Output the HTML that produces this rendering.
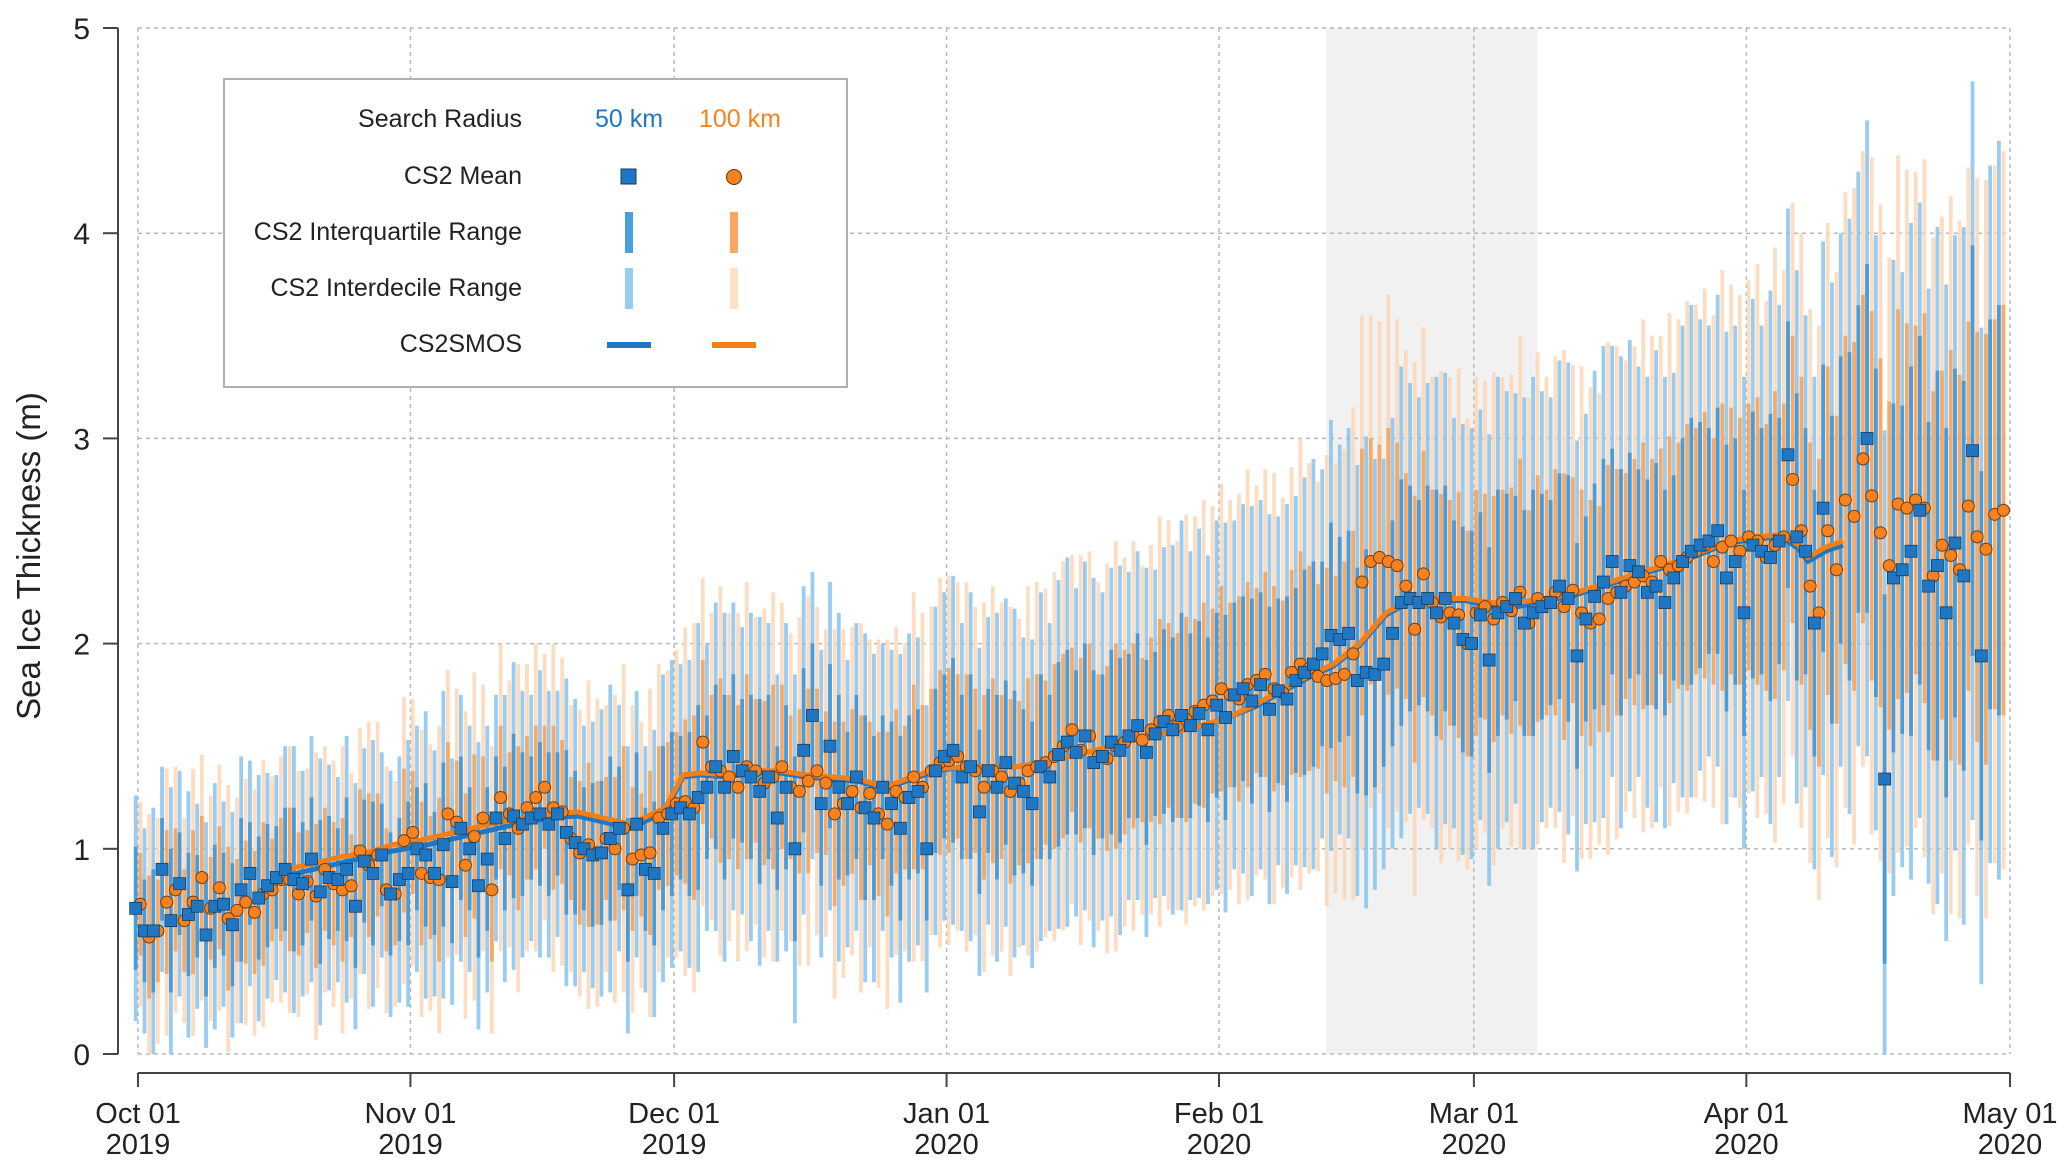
<!DOCTYPE html>
<html><head><meta charset="utf-8">
<style>
html,body{margin:0;padding:0;background:#fff;}
svg{display:block;font-family:"Liberation Sans",Arial,sans-serif;}
</style></head>
<body>
<svg id="chart" width="2067" height="1173" viewBox="0 0 2067 1173" xmlns="http://www.w3.org/2000/svg">
<g id="shade"></g>
<g id="grid"></g>
<g id="bars"></g>
<g id="lines"></g>
<g id="marks"></g>
<g id="axes"></g>
<text x="0" y="0" transform="translate(40,556) rotate(-90)" text-anchor="middle" font-size="33" fill="#222">Sea Ice Thickness (m)</text>
<g>
<rect x="224" y="79" width="623" height="308" fill="#fff" stroke="#b0b0b0" stroke-width="2"/>
<text x="522" y="127" text-anchor="end" font-size="25" fill="#222">Search Radius</text>
<text x="629" y="127" text-anchor="middle" font-size="25" fill="#1f77c4">50 km</text>
<text x="740" y="127" text-anchor="middle" font-size="25" fill="#f58220">100 km</text>
<text x="522" y="184" text-anchor="end" font-size="25" fill="#222">CS2 Mean</text>
<rect x="621" y="169" width="15" height="15" fill="#1f77c4" stroke="#1a3a5a" stroke-width="1"/>
<circle cx="734" cy="177" r="7.5" fill="#f58220" stroke="#6a3000" stroke-width="1"/>
<text x="522" y="240" text-anchor="end" font-size="25" fill="#222">CS2 Interquartile Range</text>
<rect x="625" y="212" width="8" height="41" fill="#4a9ee0"/>
<rect x="730" y="212" width="8" height="41" fill="#f9a863"/>
<text x="522" y="296" text-anchor="end" font-size="25" fill="#222">CS2 Interdecile Range</text>
<rect x="625" y="268" width="8" height="41" fill="#97ccf0"/>
<rect x="730" y="268" width="8" height="41" fill="#fde0c6"/>
<text x="522" y="352" text-anchor="end" font-size="25" fill="#222">CS2SMOS</text>
<rect x="607" y="342" width="44" height="6" fill="#1f77c4"/>
<rect x="712" y="342" width="44" height="6" fill="#f57f17"/>
</g>
</svg>
<script>
const monthLabels = ["Oct 01","Nov 01","Dec 01","Jan 01","Feb 01","Mar 01","Apr 01","May 01"];
const monthYears = ["2019","2019","2019","2020","2020","2020","2020","2020"];
const monthDays = [0,31,61,92,123,152,183,213];
const yTicks = [0,1,2,3,4,5];
const shadeRange = [135.2,159.2];

const blueMean = [0.71,0.60,0.60,0.90,0.65,0.83,0.68,0.72,0.58,0.72,0.73,0.63,0.80,0.88,0.76,0.82,0.86,0.90,0.85,0.83,0.95,0.79,0.86,0.85,0.90,0.72,0.94,0.88,0.97,0.78,0.85,
0.88,1.00,0.97,0.88,1.02,0.84,1.10,1.00,0.82,0.95,1.15,1.05,1.16,1.12,1.15,1.17,1.12,1.17,1.08,1.03,1.00,0.97,0.98,1.05,1.10,0.80,1.12,0.90,0.88,1.10,
1.17,1.20,1.17,1.25,1.30,1.40,1.30,1.45,1.38,1.35,1.28,1.35,1.15,1.30,1.00,1.48,1.65,1.22,1.50,1.30,1.22,1.35,1.20,1.15,1.30,1.22,1.10,1.25,1.28,1.00,1.38,
1.45,1.48,1.35,1.40,1.18,1.38,1.30,1.42,1.32,1.28,1.22,1.40,1.35,1.46,1.52,1.47,1.55,1.42,1.45,1.52,1.48,1.55,1.60,1.47,1.56,1.62,1.58,1.65,1.60,1.66,1.58,
1.70,1.64,1.75,1.78,1.72,1.80,1.68,1.77,1.73,1.82,1.86,1.90,1.95,2.04,2.02,2.05,1.82,1.86,1.85,1.90,2.05,2.20,2.22,2.20,2.22,2.15,2.22,2.10,2.02,
2.00,2.14,1.92,2.15,2.18,2.22,2.10,2.15,2.18,2.20,2.28,2.22,1.94,2.12,2.23,2.30,2.40,2.25,2.38,2.35,2.25,2.28,2.20,2.32,2.40,2.45,2.48,2.50,2.55,2.32,2.40,
2.15,2.48,2.45,2.42,2.50,2.92,2.52,2.45,2.10,2.66,null,null,null,null,3.00,null,1.34,2.32,2.36,2.45,2.65,2.28,2.38,2.15,2.49,2.33,2.94,1.94,null,null];

const orangeMean = [0.73,0.57,0.60,0.74,0.80,0.65,0.74,0.86,0.71,0.81,0.66,0.70,0.74,0.69,0.78,0.80,0.85,0.85,0.78,0.84,0.77,0.90,0.83,0.80,0.82,0.99,0.92,0.97,0.80,0.78,1.04,
1.08,0.88,0.86,0.85,1.17,1.13,0.92,1.06,1.15,0.80,1.25,1.17,1.10,1.20,1.25,1.30,1.20,1.18,1.05,0.98,1.02,0.98,1.05,1.00,1.10,0.95,0.97,0.98,1.15,1.17,
1.22,1.23,1.20,1.52,1.40,1.38,1.35,1.30,1.40,1.38,1.32,1.35,1.40,1.30,1.28,1.33,1.38,1.32,1.17,1.22,1.28,1.20,1.27,1.17,1.12,1.28,1.25,1.35,1.30,1.38,1.42,
1.43,1.45,1.40,1.38,1.30,1.38,1.35,1.28,1.32,1.38,1.40,1.42,1.45,1.50,1.58,1.48,1.55,1.45,1.44,1.50,1.52,1.55,1.53,1.58,1.62,1.65,1.60,1.63,1.67,1.70,1.72,
1.78,1.75,1.73,1.80,1.82,1.85,1.78,1.76,1.86,1.90,1.88,1.84,1.82,1.83,1.85,1.95,2.30,2.40,2.42,2.40,2.38,2.28,2.07,2.34,2.20,2.13,2.15,2.14,2.00,
2.15,2.18,2.12,2.20,2.16,2.25,2.10,2.22,2.20,2.25,2.18,2.26,2.15,2.10,2.12,2.22,2.25,2.28,2.30,2.33,2.30,2.40,2.36,2.38,2.42,2.45,2.48,2.40,2.47,2.50,2.45,
2.52,2.50,2.42,2.48,2.52,2.80,2.55,2.28,2.15,2.55,2.36,2.70,2.62,2.90,2.72,2.54,2.38,2.68,2.66,2.70,2.66,2.33,2.48,2.43,2.36,2.67,2.52,2.46,2.63,2.65];

const blueIqr = [.6,.5,.6,.5,.7,.5,.6,.5,.6,.6,.5,.6,.7,.5,.6,.6,.5,.6,.7,.6,.6,.7,.6,.5,.7,.6,.6,.7,.5,.6,.6,
.7,.6,.7,.6,.8,.6,.7,.6,.7,.7,.6,.7,.8,.7,.6,.7,.7,.6,.8,.7,.6,.7,.7,.8,.6,.7,.7,.6,.7,.8,
.8,.7,.8,.9,.7,.8,.9,.8,.7,.8,.9,.8,.7,.8,.9,.8,.7,.8,.8,.9,.7,.8,.9,.8,.7,.8,.9,.8,.8,.7,.8,
.8,.9,.8,.9,.8,.8,.9,.8,.9,.8,.8,.9,.8,.9,.9,.8,.9,.9,.8,.9,.9,.8,.9,.9,.8,.9,.9,1.0,.9,.9,.9,
.9,1.0,.9,.9,1.0,.9,1.0,.9,1.0,.9,1.0,1.0,.9,1.1,1.0,1.0,1.1,1.2,1.1,1.0,1.1,1.2,1.1,1.0,1.1,1.2,1.1,1.0,1.1,
1.1,1.0,1.1,1.2,1.1,1.0,1.1,1.2,1.1,1.0,1.1,1.2,1.1,1.0,1.1,1.2,1.1,1.2,1.1,1.0,1.1,1.2,1.1,1.0,1.2,1.3,1.2,1.1,1.2,1.3,1.2,
1.2,1.3,1.2,1.4,1.2,1.3,1.4,1.2,1.3,1.4,1.5,1.4,1.6,1.5,1.7,1.6,1.8,1.7,1.6,1.8,1.7,1.6,1.9,1.8,1.7,1.9,2.0,1.8,1.9,2.0];

const blueIdr = [1.1,1.0,1.2,1.0,1.3,1.1,1.2,1.0,1.1,1.2,1.0,1.1,1.3,1.1,1.2,1.1,1.0,1.2,1.3,1.1,1.2,1.3,1.1,1.0,1.3,1.2,1.1,1.3,1.0,1.2,1.2,
1.3,1.2,1.4,1.2,1.5,1.2,1.3,1.2,1.4,1.3,1.2,1.4,1.5,1.3,1.2,1.4,1.3,1.2,1.5,1.4,1.2,1.3,1.4,1.5,1.2,1.4,1.3,1.2,1.4,1.5,
1.5,1.4,1.5,1.7,1.4,1.6,1.7,1.5,1.4,1.6,1.7,1.5,1.4,1.6,1.7,1.6,1.4,1.5,1.6,1.7,1.4,1.5,1.7,1.6,1.4,1.5,1.7,1.6,1.5,1.4,1.6,
1.6,1.7,1.5,1.7,1.6,1.5,1.7,1.6,1.7,1.5,1.6,1.7,1.5,1.7,1.8,1.6,1.7,1.8,1.6,1.7,1.8,1.6,1.7,1.8,1.6,1.7,1.8,1.9,1.7,1.8,1.7,
1.8,1.9,1.7,1.8,1.9,1.8,1.9,1.7,1.9,1.8,1.9,2.0,1.8,2.1,1.9,2.0,2.1,2.3,2.1,2.0,2.1,2.3,2.1,2.0,2.1,2.3,2.2,2.0,2.1,
2.1,2.0,2.2,2.3,2.1,2.0,2.2,2.3,2.1,2.0,2.2,2.3,2.1,2.0,2.2,2.3,2.1,2.3,2.2,2.0,2.1,2.3,2.2,2.0,2.3,2.4,2.2,2.1,2.3,2.4,2.3,
2.3,2.4,2.2,2.6,2.3,2.4,2.6,2.3,2.4,2.6,2.8,2.6,2.9,2.8,3.1,2.9,3.4,3.1,2.9,3.2,3.0,2.9,3.3,3.2,3.0,3.4,3.6,3.2,3.4,3.6];

const orangeIqr = [.5,.6,.5,.7,.6,.5,.7,.6,.5,.6,.7,.5,.6,.6,.7,.5,.6,.7,.6,.5,.7,.6,.6,.7,.5,.6,.7,.6,.6,.5,.7,
.6,.7,.6,.8,.7,.6,.7,.8,.6,.7,.7,.6,.8,.7,.7,.6,.8,.7,.6,.7,.8,.7,.6,.7,.8,.7,.6,.8,.7,.7,
.7,.8,.9,.8,.7,.9,.8,.8,.9,.7,.8,.9,.8,.7,.8,.9,.8,.7,.9,.8,.8,.9,.7,.8,.9,.8,.7,.9,.8,.8,.9,
.9,.8,.9,.8,.9,.9,.8,.9,.8,.9,.9,.8,.9,.9,.8,.9,.9,.8,.9,1.0,.9,.9,.8,.9,1.0,.9,.9,1.0,.9,1.0,.9,
1.0,.9,1.0,1.0,.9,1.0,1.0,.9,1.0,1.1,1.0,.9,1.1,1.0,1.1,1.2,1.3,1.2,1.1,1.3,1.2,1.1,1.3,1.2,1.1,1.2,1.1,1.2,1.1,
1.2,1.1,1.2,1.1,1.2,1.3,1.1,1.2,1.1,1.2,1.3,1.1,1.2,1.2,1.1,1.3,1.2,1.1,1.2,1.3,1.2,1.1,1.3,1.2,1.3,1.2,1.3,1.2,1.4,1.3,1.3,
1.3,1.4,1.3,1.5,1.3,1.4,1.5,1.4,1.5,1.6,1.5,1.6,1.7,1.6,1.8,1.7,1.6,1.9,1.8,1.7,1.9,1.8,1.7,2.0,1.9,1.8,2.0,2.1,1.9,2.0];

const orangeIdr = [1.0,1.2,1.1,1.3,1.2,1.0,1.3,1.2,1.1,1.2,1.3,1.1,1.2,1.2,1.3,1.1,1.2,1.3,1.2,1.1,1.4,1.2,1.2,1.4,1.1,1.2,1.4,1.3,1.2,1.1,1.4,
1.3,1.4,1.3,1.5,1.4,1.3,1.5,1.6,1.3,1.4,1.5,1.3,1.6,1.4,1.5,1.3,1.6,1.5,1.3,1.4,1.6,1.5,1.3,1.5,1.6,1.5,1.3,1.6,1.5,1.4,
1.5,1.7,1.8,1.6,1.5,1.8,1.6,1.7,1.8,1.5,1.7,1.8,1.6,1.5,1.7,1.8,1.6,1.5,1.8,1.7,1.6,1.8,1.5,1.7,1.8,1.6,1.5,1.8,1.7,1.6,1.8,
1.8,1.7,1.8,1.6,1.8,1.8,1.7,1.8,1.6,1.8,1.8,1.7,1.8,1.8,1.7,1.9,1.8,1.7,1.9,2.0,1.8,1.9,1.7,1.8,2.0,1.9,1.8,2.0,1.9,2.0,1.9,
2.0,1.9,2.0,2.1,1.9,2.0,2.1,1.9,2.0,2.2,2.0,1.9,2.2,2.1,2.2,2.4,2.6,2.4,2.3,2.6,2.4,2.3,2.6,2.4,2.2,2.4,2.3,2.4,2.2,
2.3,2.2,2.4,2.2,2.3,2.5,2.2,2.4,2.2,2.3,2.5,2.2,2.4,2.3,2.2,2.5,2.4,2.2,2.3,2.5,2.4,2.2,2.5,2.4,2.5,2.4,2.5,2.4,2.7,2.5,2.5,
2.5,2.7,2.5,2.9,2.6,2.7,2.9,2.7,2.8,3.0,2.9,3.0,3.2,3.0,3.3,3.2,3.0,3.4,3.3,3.2,3.4,3.3,3.2,3.5,3.4,3.3,3.5,3.6,3.4,3.5];

const smosDays = [17,20,23,26,29,32,35,38,41,44,47,50,53,56,58,60,62,64,67,70,73,76,79,82,85,88,91,94,97,100,103,106,109,112,115,118,121,124,127,130,133,136,139,142,145,148,151,154,157,160,163,166,169,172,175,178,181,184,187,189,190,192,194];
const smosOrange = [0.90,0.93,0.96,0.98,1.02,1.04,1.07,1.10,1.13,1.15,1.17,1.18,1.15,1.12,1.16,1.20,1.36,1.37,1.36,1.38,1.38,1.36,1.35,1.34,1.30,1.35,1.39,1.40,1.40,1.40,1.42,1.45,1.48,1.52,1.55,1.57,1.60,1.64,1.70,1.77,1.84,1.90,2.00,2.15,2.22,2.22,2.22,2.20,2.20,2.22,2.24,2.28,2.32,2.36,2.40,2.45,2.50,2.52,2.53,2.48,2.42,2.47,2.50];
const smosBlue = [0.87,0.90,0.93,0.96,0.99,1.01,1.04,1.07,1.10,1.13,1.15,1.16,1.13,1.10,1.14,1.18,1.35,1.36,1.35,1.37,1.37,1.35,1.34,1.33,1.29,1.34,1.38,1.40,1.40,1.40,1.42,1.45,1.48,1.52,1.55,1.57,1.60,1.64,1.69,1.76,1.83,1.89,1.99,2.14,2.21,2.21,2.21,2.18,2.18,2.21,2.23,2.27,2.31,2.35,2.39,2.44,2.49,2.51,2.52,2.46,2.40,2.45,2.48];

const NS = "http://www.w3.org/2000/svg";
const X0 = 138, X1 = 2010, Y0 = 1054, Y5 = 28;
const xS = d => X0 + (X1 - X0) * d / 213;
const yS = v => Y0 - (Y0 - Y5) * Math.max(0, Math.min(5, v)) / 5;
function mk(tag, attrs, parent) {
  const e = document.createElementNS(NS, tag);
  for (const k in attrs) e.setAttribute(k, attrs[k]);
  parent.appendChild(e);
  return e;
}
const gShade = document.getElementById('shade');
const gGrid = document.getElementById('grid');
const gBars = document.getElementById('bars');
const gLines = document.getElementById('lines');
const gMarks = document.getElementById('marks');
const gAxes = document.getElementById('axes');

const sh = mk('rect', {x: xS(shadeRange[0]), y: Y5, width: xS(shadeRange[1]) - xS(shadeRange[0]), height: Y0 - Y5, fill: '#f1f1f1'}, gShade);



yTicks.forEach(t => {
  const l = mk('line', {x1: X0, x2: X1, y1: yS(t), y2: yS(t), stroke: '#b8b8b8', 'stroke-width': 1.5, 'stroke-dasharray': '4,4'}, gGrid);
  
  
  const tk = mk('line', {x1: 103, x2: 118, y1: yS(t), y2: yS(t), stroke: '#444', 'stroke-width': 2}, gAxes);
  
  
  const tx = mk('text', {x: 90, y: yS(t) + 11, 'text-anchor': 'end', 'font-size': 30, fill: '#222'}, gAxes);
  tx.textContent = String(t);
  
  
});
monthDays.forEach((d, i) => {
  const l = mk('line', {x1: xS(d), x2: xS(d), y1: Y5, y2: Y0, stroke: '#b8b8b8', 'stroke-width': 1.5, 'stroke-dasharray': '4,4'}, gGrid);
  
  
  const tk = mk('line', {x1: xS(d), x2: xS(d), y1: 1073, y2: 1087, stroke: '#444', 'stroke-width': 2}, gAxes);
  
  
  const t1 = mk('text', {x: xS(d), y: 1123, 'text-anchor': 'middle', 'font-size': 29, fill: '#222'}, gAxes);
  t1.textContent = monthLabels[i];
  
  
  const t2 = mk('text', {x: xS(d), y: 1154, 'text-anchor': 'middle', 'font-size': 29, fill: '#222'}, gAxes);
  t2.textContent = monthYears[i];
  
  
});
const ya = mk('line', {x1: 118, x2: 118, y1: Y5, y2: Y0, stroke: '#444', 'stroke-width': 2}, gAxes);


const xa = mk('line', {x1: X0, x2: X1, y1: 1073, y2: 1073, stroke: '#444', 'stroke-width': 2}, gAxes);



const BW = 3.8, OFF = 2.3;
function bar(day, off, center, w, color, name) {
  const top = yS(center + w / 2), bot = yS(center - w / 2);
  const r = mk('rect', {x: xS(day) + off - BW / 2, y: top, width: BW, height: Math.max(0, bot - top), fill: color}, gBars);
  
  
}
const N = orangeMean.length;
for (let i = 0; i < N; i++) {
  const cb = blueMean[i] != null ? blueMean[i] : orangeMean[i];
  bar(i, -OFF, cb, blueIdr[i], 'rgba(135,195,238,0.85)', 'blue-interdecile-bar');
  bar(i, OFF, orangeMean[i], orangeIdr[i], 'rgba(253,215,183,0.85)', 'orange-interdecile-bar');
}
for (let i = 0; i < N; i++) {
  const cb = blueMean[i] != null ? blueMean[i] : orangeMean[i];
  bar(i, -OFF, cb, blueIqr[i], 'rgba(55,148,218,0.85)', 'blue-interquartile-bar');
  bar(i, OFF, orangeMean[i], orangeIqr[i], 'rgba(246,160,85,0.85)', 'orange-interquartile-bar');
}
function path(vals, color, name) {
  const d = smosDays.map((dd, i) => (i ? 'L' : 'M') + xS(dd).toFixed(1) + ',' + yS(vals[i]).toFixed(1)).join(' ');
  const p = mk('path', {d: d, fill: 'none', stroke: color, 'stroke-width': 5, 'stroke-linejoin': 'round'}, gLines);
  
  
}
path(smosBlue, '#1f77c4', 'cs2smos-line-50km');
path(smosOrange, '#f57f17', 'cs2smos-line-100km');

for (let i = 0; i < N; i++) {
  const c = mk('circle', {cx: xS(i) + OFF, cy: yS(orangeMean[i]), r: 6, fill: '#f58220', stroke: '#7a3a00', 'stroke-width': 1}, gMarks);
  
  
}
for (let i = 0; i < N; i++) {
  if (blueMean[i] == null) continue;
  const s = mk('rect', {x: xS(i) - OFF - 6, y: yS(blueMean[i]) - 6, width: 12, height: 12, fill: '#1f77c4', stroke: '#1a3a5a', 'stroke-width': 0.8}, gMarks);
  
  
}
</script>
</body></html>
